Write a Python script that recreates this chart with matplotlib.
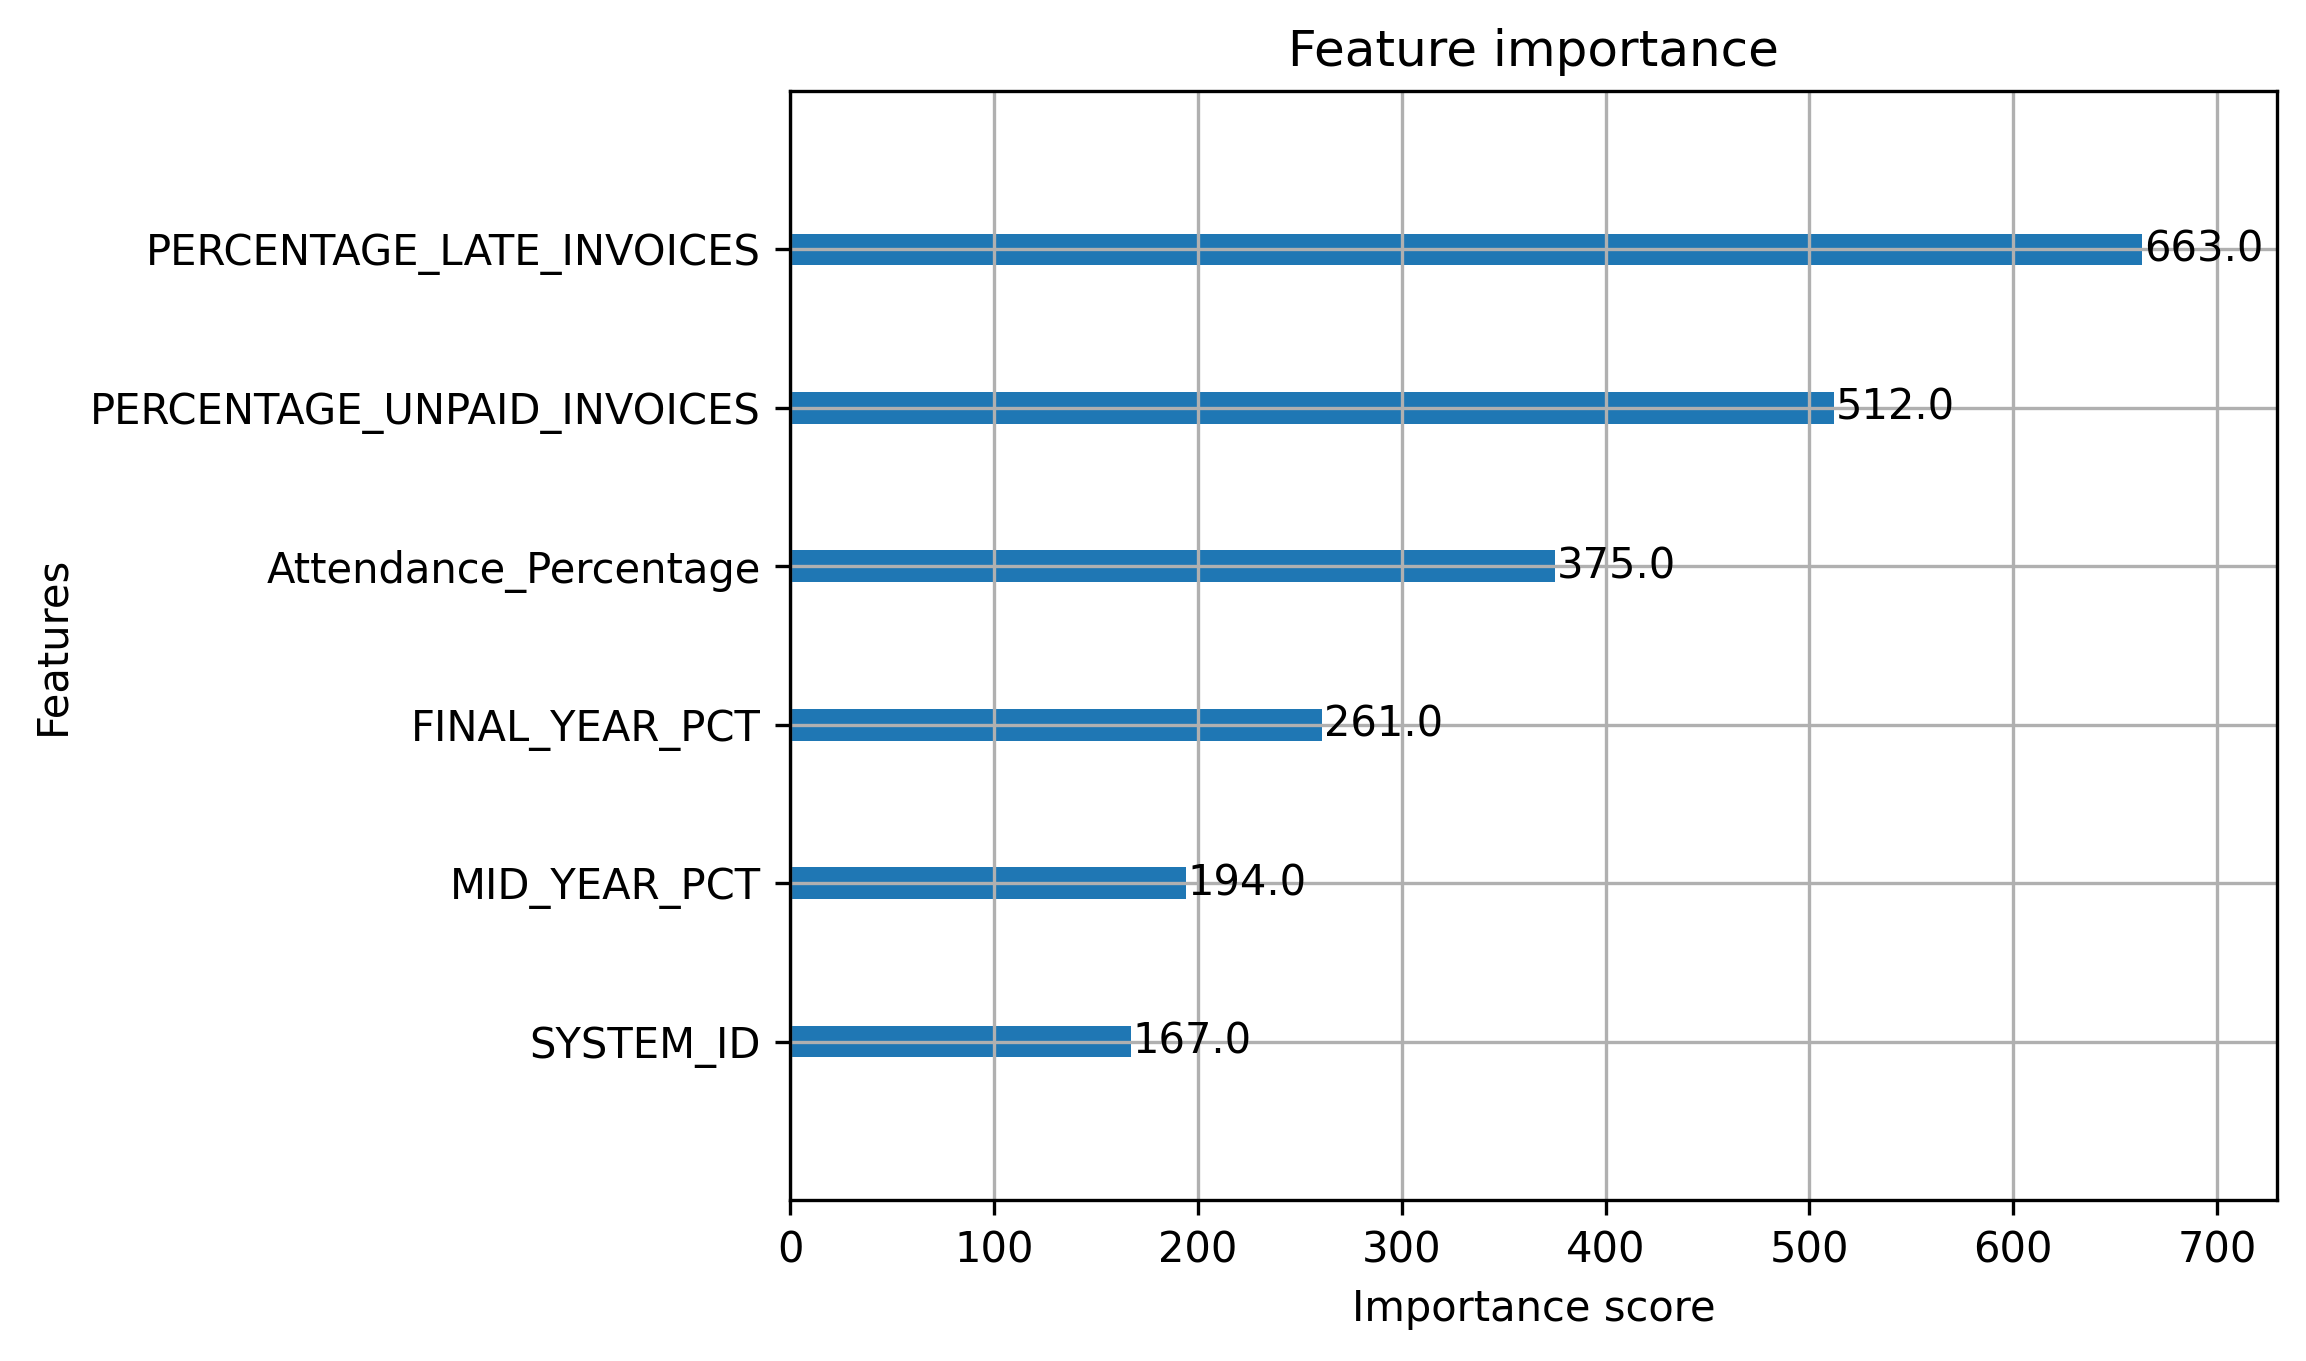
import matplotlib
matplotlib.use("Agg")
import matplotlib.pyplot as plt

features = ["SYSTEM_ID", "MID_YEAR_PCT", "FINAL_YEAR_PCT", "Attendance_Percentage",
            "PERCENTAGE_UNPAID_INVOICES", "PERCENTAGE_LATE_INVOICES"]
scores = [167.0, 194.0, 261.0, 375.0, 512.0, 663.0]

fig = plt.figure(figsize=(2306/300, 1361/300), dpi=300)
ax = fig.add_axes([790/2306, 1 - 1200/1361, (2277-790)/2306, (1200-91)/1361])
ylocs = list(range(len(scores)))
ax.barh(ylocs, scores, align="center", height=0.2)
for x, y in zip(scores, ylocs):
    ax.text(x + 1, y, str(x), va="center")
ax.set_yticks(ylocs)
ax.set_yticklabels(features)
ax.set_xlim(0, max(scores) * 1.1)
ax.set_ylim(-1, len(scores))
ax.set_title("Feature importance")
ax.set_xlabel("Importance score")
ax.set_ylabel("Features")
ax.grid(True)
fig.savefig("out.png", dpi=300)
